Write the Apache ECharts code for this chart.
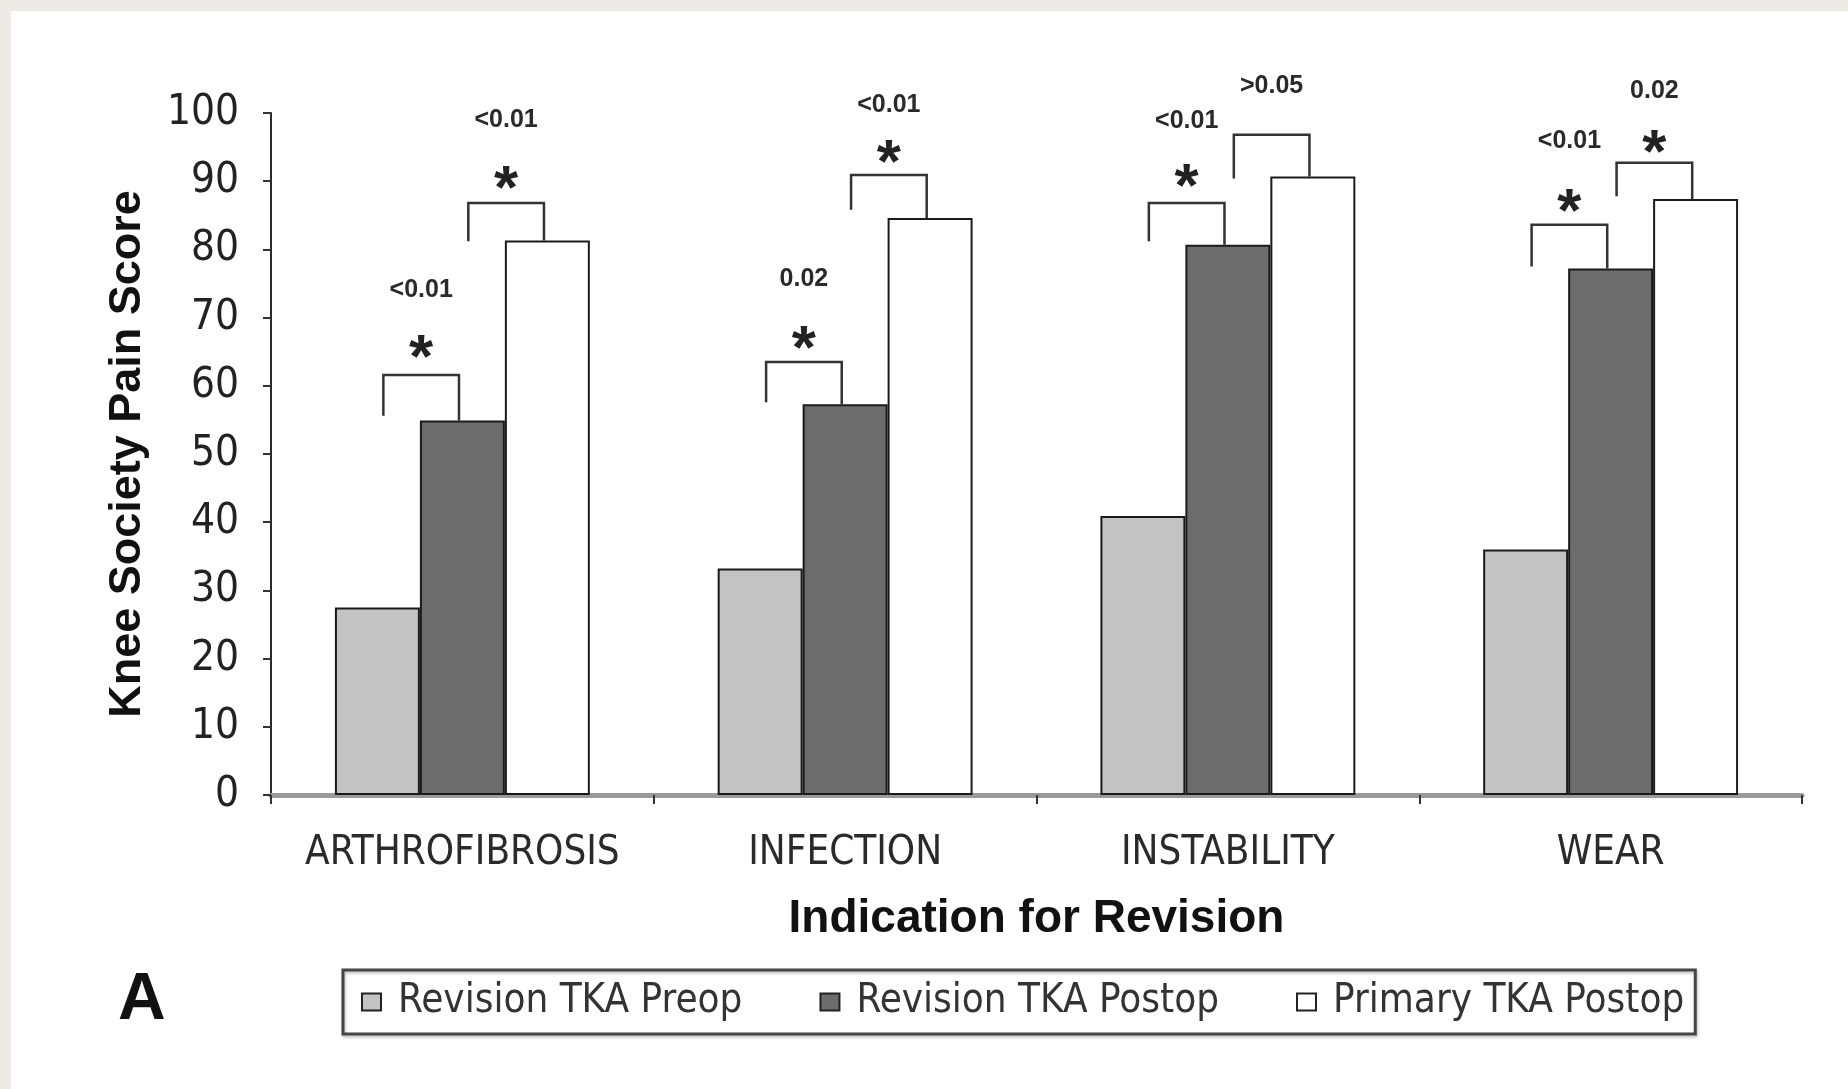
<!DOCTYPE html>
<html>
<head>
<meta charset="utf-8">
<script src="https://cdn.jsdelivr.net/npm/echarts@6/dist/echarts.min.js"></script>
<style>
  html, body { margin: 0; padding: 0; background: #ffffff; }
  #chart { width: 1848px; height: 1089px; }
</style>
</head>
<body>
<div id="chart"></div>
<script>
// ---- Data ----
const categories = ['ARTHROFIBROSIS', 'INFECTION', 'INSTABILITY', 'WEAR'];
const seriesNames = ['Revision TKA Preop', 'Revision TKA Postop', 'Primary TKA Postop'];
const revisionPreop = [27.5, 33.2, 40.9, 36.0];
const revisionPostop = [54.9, 57.3, 80.7, 77.2];
const primaryPostop = [81.3, 84.6, 90.7, 87.4];
const yTicks = [0, 10, 20, 30, 40, 50, 60, 70, 80, 90, 100];

// significance brackets: category index, left bar, right bar, bracket level, left leg end
const bracketCat   = [0, 0, 1, 1, 2, 2, 3, 3];
const bracketFrom  = [0, 1, 0, 1, 0, 1, 0, 1];
const bracketTo    = [1, 2, 1, 2, 1, 2, 1, 2];
const bracketTop   = [61.6, 86.8, 63.5, 90.9, 86.8, 96.8, 83.6, 92.7];
const bracketLeft  = [55.6, 81.2, 57.6, 85.8, 81.2, 90.4, 77.5, 87.8];
const bracketStarY = [65.8, 90.6, 67.2, 94.4, 90.9, null, 87.3, 95.9];
const bracketP     = ['<0.01', '<0.01', '0.02', '<0.01', '<0.01', '>0.05', '<0.01', '0.02'];
const bracketPY    = [74.1, 99.0, 75.6, 101.2, 98.8, 104.0, 95.9, 103.2];

const seriesValues = [revisionPreop, revisionPostop, primaryPostop];
const seriesColors = ['#c3c3c3', '#6c6c6c', '#ffffff'];

const NARROW = "'Liberation Sans Narrow', 'Arial Narrow', 'DejaVu Sans Condensed', sans-serif";
const SANS = "'Liberation Sans', Arial, sans-serif";
const BAR_FRAC = 0.222;

const chart = echarts.init(document.getElementById('chart'), null, { renderer: 'canvas' });

const barSeries = seriesNames.map((name, i) => ({
  name: name,
  type: 'bar',
  data: seriesValues[i],
  barWidth: (BAR_FRAC * 100) + '%',
  barGap: '0%',
  itemStyle: { color: seriesColors[i], borderColor: '#1a1a1a', borderWidth: 2 },
  emphasis: { disabled: true },
  z: 2
}));

const bracketData = bracketCat.map((c, k) => {
  const rightVal = seriesValues[bracketTo[k]][c];
  return [c, bracketFrom[k], bracketTo[k], bracketTop[k], bracketLeft[k], rightVal,
          bracketStarY[k] == null ? -1 : bracketStarY[k], bracketPY[k], k];
});

const bracketSeries = {
  type: 'custom',
  name: 'brackets',
  data: bracketData,
  clip: false,
  silent: true,
  z: 5,
  renderItem: function (params, api) {
    const cat = api.value(0);
    const from = api.value(1), to = api.value(2);
    const top = api.value(3), leftEnd = api.value(4), rightEnd = api.value(5);
    const starY = api.value(6), pY = api.value(7), k = api.value(8);
    const center = api.coord([cat, 0]);
    const band = api.size([1, 0])[0];
    const bw = band * BAR_FRAC;
    const xL = center[0] + (from - 1) * bw + bw * 0.07;
    const xR = center[0] + (to - 1) * bw - bw * 0.04;
    const yTop = api.coord([cat, top])[1];
    const yL = api.coord([cat, leftEnd])[1];
    const yR = api.coord([cat, rightEnd])[1];
    const xm = (xL + xR) / 2;
    const children = [{
      type: 'polyline',
      shape: { points: [[xL, yL], [xL, yTop], [xR, yTop], [xR, yR]] },
      style: { stroke: '#333', lineWidth: 2.5, fill: null }
    }, {
      type: 'text',
      style: {
        text: bracketP[k], x: xm, y: api.coord([cat, pY])[1],
        textAlign: 'center', textVerticalAlign: 'middle',
        font: "bold 25px " + SANS, fill: '#2a2a2a'
      }
    }];
    if (starY >= 0) {
      children.push({
        type: 'text',
        style: {
          text: '*', x: xm, y: api.coord([cat, starY])[1] + 14,
          textAlign: 'center', textVerticalAlign: 'middle',
          font: "bold 62px " + SANS, fill: '#222'
        }
      });
    }
    return { type: 'group', children: children };
  }
};

const option = {
  backgroundColor: '#ffffff',
  animation: false,
  grid: { left: 271, right: 46, top: 113, bottom: 294, containLabel: false },
  xAxis: {
    type: 'category',
    data: categories,
    name: 'Indication for Revision',
    nameLocation: 'middle',
    nameGap: 101,
    nameTextStyle: { fontFamily: SANS, fontWeight: 'bold', fontSize: 46, color: '#111' },
    axisLine: { lineStyle: { color: '#9a9a9a', width: 5 } },
    axisTick: { show: true, interval: 0, length: 9, lineStyle: { color: '#333', width: 2 } },
    axisLabel: { interval: 0, fontFamily: NARROW, fontSize: 40, color: '#2a2a2a', margin: 39 },
    splitLine: { show: false }
  },
  yAxis: {
    type: 'value',
    min: 0, max: 100, interval: 10,
    name: 'Knee Society Pain Score',
    nameLocation: 'middle',
    nameGap: 121,
    nameRotate: 90,
    nameTextStyle: { fontFamily: SANS, fontWeight: 'bold', fontSize: 45, color: '#111' },
    axisLine: { show: true, lineStyle: { color: '#2a2a2a', width: 2 } },
    axisTick: { show: true, length: 8, lineStyle: { color: '#333', width: 2 } },
    axisLabel: {
      fontFamily: NARROW, fontSize: 42, color: '#222', margin: 32,
      formatter: function (v) { return yTicks.indexOf(v) >= 0 ? String(v) : ''; }
    },
    splitLine: { show: false }
  },
  legend: {
    data: seriesNames,
    left: 343, top: 970,
    padding: [12, 11, 12, 18],
    itemGap: 77,
    itemWidth: 19, itemHeight: 17,
    icon: 'rect',
    itemStyle: { borderColor: '#222', borderWidth: 2 },
    borderColor: '#444', borderWidth: 3,
    shadowColor: 'rgba(0,0,0,0.25)', shadowBlur: 3, shadowOffsetX: 1, shadowOffsetY: 2,
    textStyle: { fontFamily: NARROW, fontSize: 40, color: '#333', padding: [0, 0, 0, 12] },
    selectedMode: false
  },
  graphic: [
    { type: 'rect', left: 0, top: 0, shape: { width: 1848, height: 11 }, style: { fill: '#eeebe6' }, z: 100 },
    { type: 'rect', left: 0, top: 0, shape: { width: 11, height: 1089 }, style: { fill: '#eeebe6' }, z: 100 },
    { type: 'text', left: 118, top: 968, style: { text: 'A', font: "bold 66px " + SANS, fill: '#111' } }
  ],
  series: barSeries.concat([bracketSeries])
};

chart.setOption(option);
</script>
</body>
</html>
